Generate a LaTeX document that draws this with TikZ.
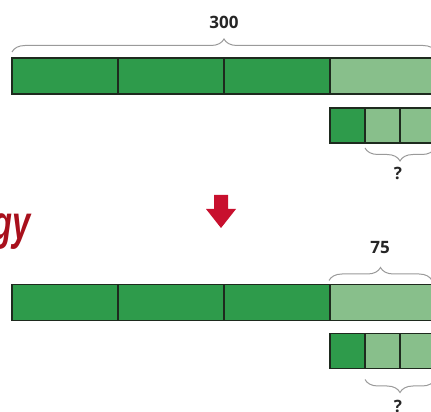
\documentclass[tikz,border=0pt]{standalone}
\usepackage{fontspec}
\setmainfont{Open Sans}
\newfontfamily\wordfont{Liberation Sans}
\usepackage{tikz}
\usetikzlibrary{positioning,decorations.pathreplacing}
\definecolor{darkgr}{HTML}{2E9B4B}
\definecolor{lightgr}{HTML}{88BF8B}
\definecolor{edge}{HTML}{1E2A1E}
\definecolor{bracegr}{HTML}{9A9A9A}
\definecolor{arrowred}{HTML}{C8102E}
\definecolor{wordred}{HTML}{A8101C}
\tikzset{
seg/.style={draw=edge,line width=1.6pt,minimum width=106pt,minimum height=36pt,inner sep=0pt,outer sep=0pt},
sq/.style={seg,minimum width=35pt,minimum height=35pt},
brc/.style={decorate,decoration={brace,amplitude=13pt},draw=bracegr,line width=1pt},
lbl/.style={text=black!85,font=\fontsize{17}{17}\selectfont\bfseries}
}
\begin{document}
\begin{tikzpicture}[x=1pt,y=1pt]
%picture
\useasboundingbox (0,0) rectangle (431,412);
\node[anchor=base east,xscale=0.68,inner sep=0pt,text=wordred,font=\wordfont\fontsize{48}{48}\selectfont\bfseries\itshape] (word) at (31,172) {gy};
% whole bar, top
\node[seg,fill=darkgr] (a1) at (65,336) {};
\node[seg,fill=darkgr,right=0pt of a1] (a2) {};
\node[seg,fill=darkgr,right=0pt of a2] (a3) {};
\node[seg,fill=lightgr,right=0pt of a3] (a4) {};
\node[sq,fill=darkgr] (b1) at (347.5,286.5) {};
\node[sq,fill=lightgr,right=0pt of b1] (b2) {};
\node[sq,fill=lightgr,right=0pt of b2] (b3) {};
\draw[brc] ([yshift=6pt]a1.north west) -- ([yshift=6pt]a4.north east);
\node[lbl] (n300) at (224,390) {300};
\draw[brc,decoration={mirror}] ([yshift=-5pt]b2.south west) -- ([yshift=-5pt]b3.south east);
\node[lbl] (q1) at (398,239) {?};
% arrow
\fill[arrowred] (214,217) -- (228,217) -- (228,203) -- (236,203) -- (221,184) -- (206,203) -- (214,203) -- cycle;
% whole bar, bottom
\node[seg,fill=darkgr] (c1) at (65,109.5) {};
\node[seg,fill=darkgr,right=0pt of c1] (c2) {};
\node[seg,fill=darkgr,right=0pt of c2] (c3) {};
\node[seg,fill=lightgr,right=0pt of c3] (c4) {};
\node[sq,fill=darkgr] (d1) at (347.5,61) {};
\node[sq,fill=lightgr,right=0pt of d1] (d2) {};
\node[sq,fill=lightgr,right=0pt of d2] (d3) {};
\draw[brc] ([xshift=-1pt,yshift=4pt]c4.north west) -- ([xshift=-4pt,yshift=4pt]c4.north east);
\node[lbl] (n75) at (380,164) {75};
\draw[brc,decoration={mirror}] ([yshift=-11pt]d2.south west) -- ([yshift=-11pt]d3.south east);
\node[lbl] (q2) at (398,6) {?};
\end{tikzpicture}
\end{document}
